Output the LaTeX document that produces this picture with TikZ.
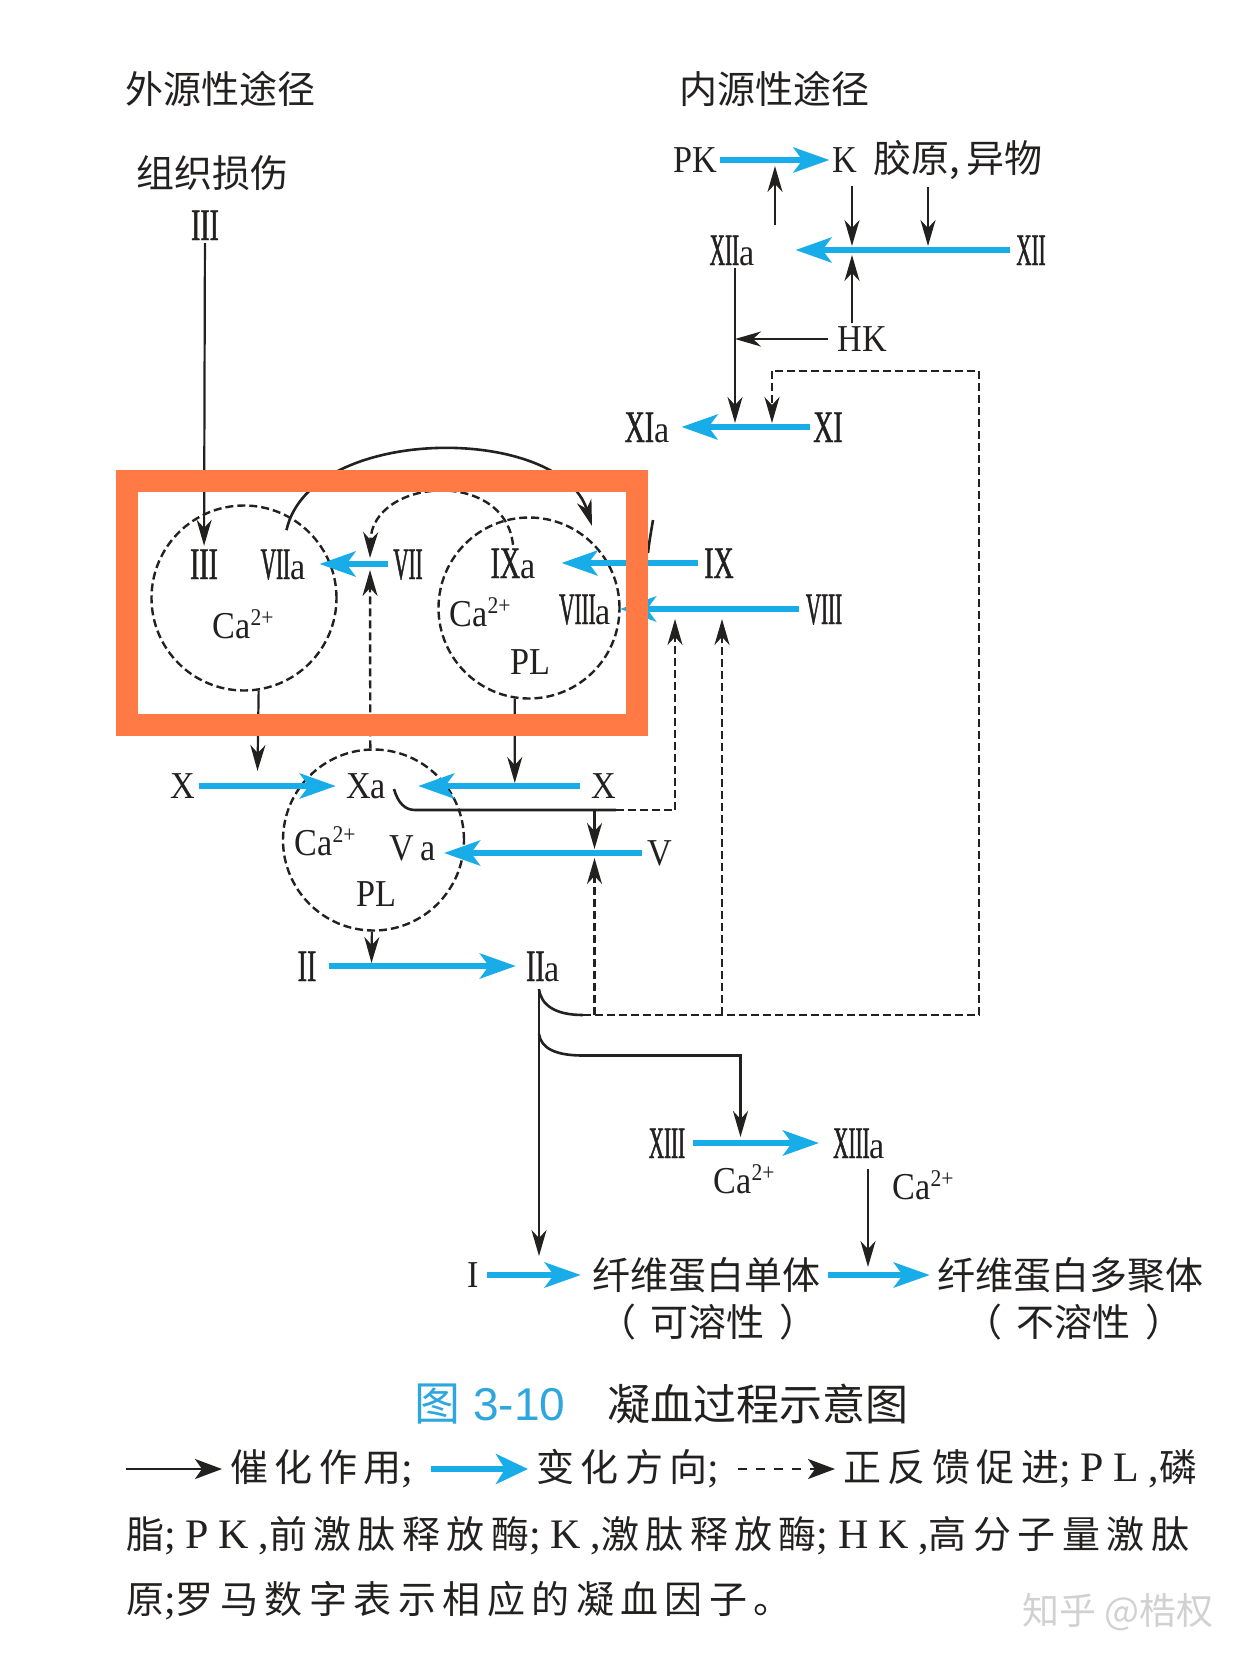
\documentclass[tikz,border=0pt]{standalone}
\usepackage{fontspec}
\usetikzlibrary{arrows.meta}
\setmainfont{Liberation Serif}
\newfontfamily\lblrm[FakeStretch=0.9]{Liberation Serif}
\newfontfamily\rnthin[FakeStretch=0.47,FakeBold=1]{Liberation Serif}
\newfontfamily\rnwide[FakeStretch=0.62,FakeBold=1]{Liberation Serif}
\newfontfamily\hzfont{Noto Sans CJK SC}
\newfontfamily\hzlegend[LetterSpace=17]{Noto Sans CJK SC}
\newfontfamily\rmlegend[LetterSpace=23]{Liberation Serif}
\newfontfamily\capsans{Liberation Sans}
\definecolor{flowblue}{RGB}{24,172,232}
\definecolor{capblue}{RGB}{47,166,222}
\definecolor{frameorange}{RGB}{255,122,69}
\definecolor{inkdark}{RGB}{35,32,32}
\newcommand\rnt[1]{{\rnthin\fontsize{45}{45}\selectfont #1}}
\newcommand\rnw[1]{{\rnwide\fontsize{45}{45}\selectfont #1}}
\newcommand\caion{Ca\raisebox{13pt}{\fontsize{24}{24}\selectfont 2+}}
\newcommand\lgh[1]{{\hzlegend #1}}
\newcommand\lgr[1]{{\rmlegend\fontsize{42}{42}\selectfont #1}}
\tikzset{
    lbl/.style={inner sep=3pt,text height=25pt,text depth=0pt,text=inkdark,
        font=\lblrm\fontsize{38}{40}\selectfont},
    lblnum/.style={lbl,text height=30pt},
    hz/.style={inner sep=2pt,text=inkdark,font=\hzfont\fontsize{38}{40}\selectfont},
    lg/.style={inner sep=0pt,anchor=west,text=inkdark,font=\fontsize{38}{40}\selectfont},
    flow/.style={draw=flowblue,line width=6pt,-{Stealth[length=36pt,width=25pt,inset=9pt]}},
    cat/.style={draw=inkdark,line width=2.2pt,-{Stealth[length=26pt,width=15pt,inset=8pt]}},
    fb/.style={draw=inkdark,line width=2.4pt,dash pattern=on 8pt off 4pt},
    fbarrow/.style={fb,-{Stealth[length=26pt,width=15pt,inset=8pt]}},
    bond/.style={draw=inkdark,line width=2.6pt},
    site/.style={circle,draw=inkdark,line width=2.4pt,dash pattern=on 8pt off 4pt,inner sep=0pt},
}
\begin{document}
\begin{tikzpicture}[x=1pt,y=-1pt]
    \useasboundingbox (0,0) rectangle (1248,1663);

    % headings
    \node[hz] (outer) at (220,89) {外源性途径};
    \node[hz] (inner) at (774,89) {内源性途径};
    \node[hz] (injury) at (212,173) {组织损伤};
    \node[hz] (kolla) at (958,160) {胶原,\hspace{6pt}异物};

    % factors
    \foreach \nm/\xx/\yy/\txt in {
        pk/695/160/PK, k/845/160/K, hk/862/339/HK,
        plr/530/662/PL, caleft/243/626/{\caion}, caright/480/614/{\caion},
        xleft/183/786/X, xa/366/786/{Xa}, xright/604/786/X,
        cabot/325/843/{\caion}, va/413/848/{V\,a}, v/660/853/V, plb/376/894/PL,
        caxiii/744/1181/{\caion}, caxiiia/923/1187/{\caion},
        ifac/473/1275/I
    }{
        \node[lbl] (\nm) at (\xx,\yy) {\txt};
    }
    \foreach \nm/\xx/\yy/\txt in {
        xiia/732/250/{\rnt{XII}a}, xii/1031/250/{\rnt{XII}},
        xia/647/427/{\rnw{XI}a}, xi/828/427/{\rnw{XI}},
        iiitop/205/225/{\rnw{III}}, iiicirc/204/564/{\rnw{III}},
        viia/283/564/{\rnt{VII}a}, vii/408/564/{\rnt{VII}},
        ixa/513/563/{\rnw{IX}a}, ix/719/563/{\rnw{IX}},
        viiia/585/609/{\rnt{VIII}a}, viii/824/609/{\rnt{VIII}},
        ii/307/966/{\rnw{II}}, iia/543/966/{\rnw{II}a},
        xiii/667/1143/{\rnt{XIII}}, xiiia/859/1143/{\rnt{XIII}a}
    }{
        \node[lblnum] (\nm) at (\xx,\yy) {\txt};
    }
    \node[hz] (mono) at (706,1275) {纤维蛋白单体};
    \node[hz] (poly) at (1070,1275) {纤维蛋白多聚体};
    \node[hz] (solu) at (708,1322) {（\hspace{15pt}可溶性\hspace{15pt}）};
    \node[hz] (insolu) at (1074,1322) {（\hspace{15pt}不溶性\hspace{15pt}）};

    % dashed sites
    \node[site,minimum size=185pt] (sitel) at (244,598) {};
    \node[site,minimum size=181pt] (siter) at (529,608) {};
    \node[site,minimum size=181pt] (siteb) at (373.5,840) {};

    % points where arrows meet a flow line
    \foreach \nm/\xx/\yy in {
        xiiaup/775/225, jpkk/775/166, jxiiak/852/246, jxiik/928/246, jxiihk/852/255,
        jxiiadown/735/339, jxidown/735/423, jxifb/772/423, jviitop/370/558, jviibot/370/570,
        jxlend/257.5/771, jxrend/514.8/783, jixend/592/526, jiiend/371.5/963,
        jvtop/594.5/849, jvbot/594.5/858, jviiia/675/619, jviiib/722/619,
        jxiiiend/740.5/1137, jmonoend/539/1256, jpolyend/868/1267,
        fragtop/653/520, fragbot/648/553
    }{
        \coordinate (\nm) at (\xx,\yy);
    }

    % black arrows, upper right
    \draw[cat] (xiiaup) -- (jpkk);
    \draw[cat,shorten <=10pt] (k.south -| jxiiak) -- (jxiiak);
    \draw[cat,shorten <=5pt] (kolla.south -| jxiik) -- (jxiik);
    \draw[cat] (hk.north -| jxiihk) -- (jxiihk);
    \draw[cat,shorten <=6pt] (hk) -- (jxiiadown);
    \draw[cat] (xiia.south -| jxidown) -- (jxidown);

    % flows, upper right
    \draw[flow] (pk) -- (k);
    \draw[flow,shorten >=38pt,shorten <=3pt] (xii) -- (xiia);
    \draw[flow,shorten >=9pt] (xi) -- (xia);

    % flows of the cascade
    \draw[cat] (iiitop) -- (iiicirc);
    \draw[flow,shorten >=11pt,shorten <=2pt] (vii) -- (viia);
    \draw[flow,shorten >=23pt,shorten <=3pt] (ix) -- (ixa);
    \draw[flow,shorten >=6pt,shorten <=4pt] (viii) -- (viiia);
    \draw[flow,shorten >=7pt] (xleft) -- (xa);
    \draw[flow,shorten >=29pt,shorten <=8pt] (xright) -- (xa);
    \draw[flow,shorten >=31pt,shorten <=2pt] (v) -- (va |- v);
    \draw[flow,shorten >=7pt,shorten <=10pt] (ii) -- (iia);

    % curves above the sites
    \draw[bond,-{Stealth[length=26pt,width=15pt,inset=8pt]},shorten <=16pt]
        (viia.north) .. controls (310,424) and (560,424) .. (jixend);
    \draw[inkdark,line width=2.6pt] (fragtop) .. controls (651,532) and (649,543) .. (fragbot);
    \draw[fbarrow] (ixa.north) .. controls (505,468) and (372,478) .. (jviitop);
    \draw[fbarrow] (siteb.92) -- (jviibot);

    % out of the sites
    \draw[cat] (sitel.-81.6) -- (jxlend);
    \draw[cat] (siter.-99) -- (jxrend);
    \draw[cat] (siteb.-91) -- (jiiend);

    % from Xa
    \coordinate (xaout) at (394,789);
    \coordinate (jxa) at (415,810);
    \coordinate (jxaend) at (616,810);
    \coordinate (jxaturn) at (675,810);
    \draw[bond] (xaout) .. controls (398,803) and (405,810) .. (jxa) -- (jxaend);
    \draw[fb] (jxaend) -- (jxaturn);
    \draw[fbarrow] (jxaturn) -- (jviiia);
    \draw[cat] (jvtop |- jxa) -- (jvtop);

    % from IIa
    \coordinate (iiaout) at (539,989);
    \coordinate (jfbstart) at (583,1015);
    \coordinate (jfbright) at (979,1015);
    \coordinate (jfbtop) at (979,371);
    \coordinate (jfbleft) at (772,371);
    \coordinate (iiabranch) at (539,1034);
    \coordinate (jpolyturn) at (583,1055.5);
    \draw[bond] (iiaout) .. controls (541,1005) and (555,1015) .. (jfbstart);
    \draw[fb] (jfbstart) -- (jfbright) -- (jfbtop) -- (jfbleft);
    \draw[fbarrow] (jfbleft) -- (jxifb);
    \draw[fbarrow] (jvbot |- jfbstart) -- (jvbot);
    \draw[fbarrow] (jviiib |- jfbstart) -- (jviiib);
    \draw[cat] (iiaout) -- (jmonoend);
    \draw[bond] (iiabranch) .. controls (541,1048) and (555,1055.5) .. (jpolyturn);
    \draw[cat] (jpolyturn) -| (jxiiiend);

    % lower flows
    \draw[flow,shorten >=11pt,shorten <=5pt] (xiii) -- (xiiia);
    \draw[flow,shorten >=9pt,shorten <=5pt] (ifac) -- (mono);
    \draw[flow,shorten >=5pt,shorten <=6pt] (mono) -- (poly);
    \draw[cat,shorten <=8pt] (xiiia.south -| jpolyend) -- (jpolyend);

    % caption
    \node[inner sep=0pt,text=capblue,font=\capsans\fontsize{46}{46}\selectfont] (capnum) at (490,1404) {{\hzfont 图} 3-10};
    \node[inner sep=0pt,text=inkdark,font=\hzfont\fontsize{43}{44}\selectfont] (captitle) at (758,1404) {凝血过程示意图};

    % legend
    \coordinate (lgstart) at (126,1469);
    \node[lg] (lgcat) at (230,1469) {\lgh{催化作用}\lgr{;}};
    \node[lg] (lgflow) at (536,1469) {\lgh{变化方向}\lgr{;}};
    \node[lg] (lgfb) at (843,1469) {\lgh{正反馈促进}\lgr{;PL,}\lgh{磷}};
    \node[lg] (lgsecond) at (126,1536) {\lgh{脂}\lgr{;PK,}\lgh{前激肽释放酶}\lgr{;K,}\lgh{激肽释放酶}\lgr{;HK,}\lgh{高分子量激肽}};
    \node[lg] (lgthird) at (126,1601) {\lgh{原}\lgr{;}\lgh{罗马数字表示相应的凝血因子。}};
    \draw[draw=inkdark,line width=2.6pt,-{Stealth[length=27pt,width=20pt,inset=7pt]},shorten >=8pt] (lgstart) -- (lgcat);
    \draw[draw=flowblue,line width=6pt,-{Stealth[length=32pt,width=30pt,inset=9pt]},shorten >=8pt,shorten <=18pt] (lgcat) -- (lgflow);
    \draw[draw=inkdark,line width=2.6pt,dash pattern=on 9pt off 9pt,-{Stealth[length=27pt,width=20pt,inset=7pt]},shorten >=8pt,shorten <=19pt] (lgflow) -- (lgfb);

    % watermark
    \node[inner sep=0pt,text=black!18,font=\hzfont\fontsize{37}{38}\selectfont] (mark) at (1118,1612) {知乎 @梏权};

    % orange frame on top
    \draw[frameorange,line width=22pt] (127,481) rectangle (636.5,724.5);
\end{tikzpicture}
\end{document}
